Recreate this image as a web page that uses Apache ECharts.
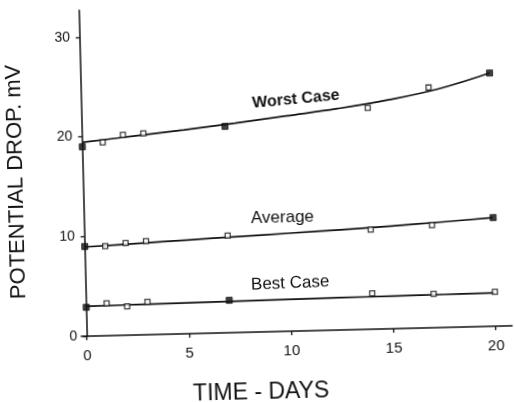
<!DOCTYPE html>
<html>
<head>
<meta charset="utf-8">
<script src="https://cdn.jsdelivr.net/npm/echarts@6/dist/echarts.min.js"></script>
<style>
  html, body { margin: 0; padding: 0; background: #fff; overflow: hidden; }
  /* the scanned figure sits slightly tilted on the page */
  #drew { width: 514px; height: 402px; transform: rotate(-1.4deg); transform-origin: 50% 50%; }
</style>
</head>
<body>
<div id="drew"></div>
<script>
// measured points (days, mV)
var days = [0, 1, 2, 3, 7, 14, 17, 20];
var worstCase = [19.0, 19.4, 20.1, 20.2, 20.7, 22.2, 24.1, 25.4];
var average = [9.0, 9.0, 9.25, 9.4, 9.75, 10.0, 10.3, 10.9];
var bestCase = [2.9, 3.25, 2.9, 3.3, 3.25, 3.6, 3.4, 3.45];
// 1 = solid marker, 0 = open square
var worstSolid = [1, 0, 0, 0, 1, 0, 0, 1];
var averageSolid = [1, 0, 0, 0, 0, 0, 0, 1];
var bestSolid = [1, 0, 0, 0, 1, 0, 0, 0];

// fitted curves
var fitDays = [0, 2.5, 5, 7.5, 10, 12.5, 15, 17.5, 20];
var worstFit = [19.45, 19.95, 20.45, 21.0, 21.6, 22.2, 22.95, 23.95, 25.4];
var averageFit = [8.95, 9.17, 9.4, 9.62, 9.83, 10.05, 10.3, 10.58, 10.9];
var bestFit = [3.0, 3.05, 3.1, 3.15, 3.2, 3.24, 3.28, 3.31, 3.35];

var xTicks = [0, 5, 10, 15, 20];
var yTicks = [0, 10, 20, 30];

var curveNames = ['Worst Case', 'Average', 'Best Case'];
var namePos = [[10.5, 23.25], [9.7, 11.4], [10.0, 4.8]];

var font = 'Liberation Sans, Arial, sans-serif';
var ink = '#111';

function zip(xs, ys) {
    return xs.map(function (x, i) { return [x, ys[i]]; });
}

function points(vals, solid) {
    return days.map(function (d, i) {
        return {
            value: [d, vals[i]],
            itemStyle: solid[i]
                ? { color: ink, borderColor: ink, borderWidth: 1 }
                : { color: '#fff', borderColor: ink, borderWidth: 1.3 },
            symbolSize: solid[i] ? 6 : 5
        };
    });
}

function curve(fit, idx, rot, weight, size) {
    return {
        type: 'line',
        data: zip(fitDays, fit),
        smooth: 0.4,
        showSymbol: false,
        silent: true,
        lineStyle: { color: ink, width: 1.7 },
        z: 2,
        markPoint: {
            symbol: 'rect',
            symbolSize: 1,
            itemStyle: { color: 'rgba(0,0,0,0)' },
            label: {
                show: true,
                position: 'inside',
                formatter: '{b}',
                color: ink,
                fontFamily: font,
                fontSize: size,
                fontWeight: weight,
                rotate: rot
            },
            data: [{ name: curveNames[idx], coord: namePos[idx] }]
        }
    };
}

function marks(vals, solid) {
    return {
        type: 'scatter',
        symbol: 'rect',
        data: points(vals, solid),
        z: 3
    };
}

var myChart = echarts.init(document.getElementById('drew'));
var option = {
    backgroundColor: '#fff',
    animation: false,
    grid: { left: 78, right: 5, top: 6, bottom: 70, outerBoundsMode: 'none', containLabel: false },
    xAxis: {
        type: 'value',
        min: -0.28,
        max: 20.8,
        name: 'TIME - DAYS',
        nameLocation: 'middle',
        nameGap: 49,
        nameTextStyle: { fontFamily: font, fontSize: 23, color: ink, padding: [0, 74, 0, 0] },
        axisLine: { onZero: true, lineStyle: { color: ink, width: 1.5 } },
        axisTick: { customValues: xTicks, length: 4, lineStyle: { color: ink, width: 1.3 } },
        axisLabel: { customValues: xTicks, margin: 12, fontFamily: font, fontSize: 15, color: ink },
        splitLine: { show: false }
    },
    yAxis: {
        type: 'value',
        min: 0,
        max: 32.7,
        name: 'POTENTIAL DROP. mV',
        nameLocation: 'middle',
        nameGap: 50,
        nameTextStyle: { fontFamily: font, fontSize: 22, color: ink, padding: [0, 14, 0, 0] },
        axisLine: { onZero: true, lineStyle: { color: ink, width: 1.5 } },
        axisTick: { customValues: yTicks, length: 4, lineStyle: { color: ink, width: 1.3 } },
        axisLabel: { customValues: yTicks, margin: 4, fontFamily: font, fontSize: 14, color: ink },
        splitLine: { show: false }
    },
    series: [
        curve(worstFit, 0, 4, 'bold', 16),
        curve(averageFit, 1, 0, 'normal', 17),
        curve(bestFit, 2, 1, 'normal', 17),
        marks(worstCase, worstSolid),
        marks(average, averageSolid),
        marks(bestCase, bestSolid)
    ]
};
myChart.setOption(option);
</script>
</body>
</html>
